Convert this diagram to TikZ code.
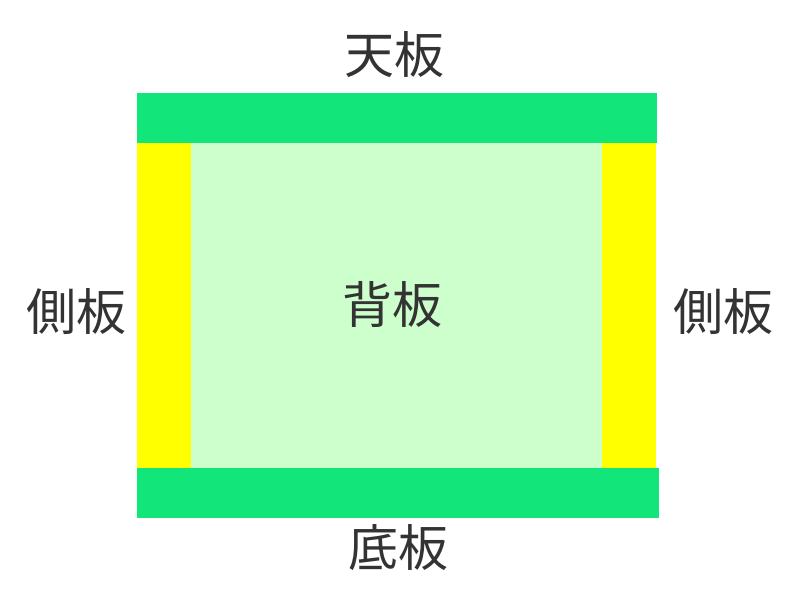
\documentclass[tikz,border=0pt]{standalone}
\usepackage{fontspec}
\newfontfamily\cjk{Noto Sans CJK JP}
\definecolor{topgreen}{HTML}{12E67A}
\definecolor{sideyellow}{HTML}{FFFF00}
\definecolor{backgreen}{HTML}{CCFFCC}
\definecolor{txt}{HTML}{333333}
\begin{document}
\begin{tikzpicture}[x=1pt,y=1pt,
  lbl/.style={font=\cjk\fontsize{50}{50}\selectfont, text=txt, inner sep=0pt}]
\useasboundingbox (0,0) rectangle (800,600);
\fill[white] (0,0) rectangle (800,600);
% back panel
\fill[backgreen] (190,132) rectangle (603,457);
% side panels
\fill[sideyellow] (137,132) rectangle (191,457);
\fill[sideyellow] (602,132) rectangle (656,457);
% top and bottom
\fill[topgreen] (137,457) rectangle (657,507);
\fill[topgreen] (137,82) rectangle (659,132);
% labels
\node[lbl] (top) at (394,545) {天板};
\node[lbl] (left) at (76,288) {側板};
\node[lbl] (back) at (392,295) {背板};
\node[lbl] (right) at (723,288) {側板};
\node[lbl] (bottom) at (398,52) {底板};
\end{tikzpicture}
\end{document}
